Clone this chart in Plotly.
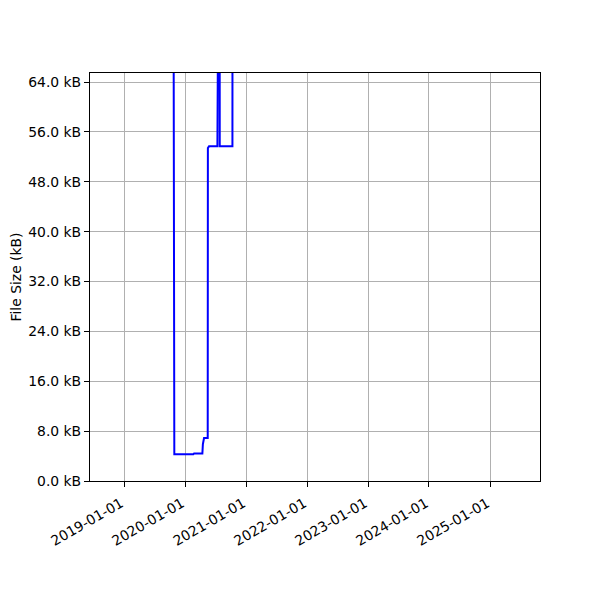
import plotly.graph_objects as go

dates = [
    "2019-10-22", "2019-10-29", "2020-02-20", "2020-02-24", "2020-04-14",
    "2020-04-17", "2020-04-24", "2020-05-16", "2020-05-17", "2020-05-24",
    "2020-07-13", "2020-07-14", "2020-07-26", "2020-07-27", "2020-10-11",
    "2020-10-12",
]
sizes_kb = [
    120.0, 4.3, 4.3, 4.4, 4.4,
    5.9, 6.9, 6.9, 53.4, 53.7,
    53.7, 120.0, 120.0, 53.7, 53.7,
    120.0,
]

y_ticks = [0, 8, 16, 24, 32, 40, 48, 56, 64]
y_labels = [f"{v:.1f} kB" for v in y_ticks]
x_ticks = ["2019-01-01", "2020-01-01", "2021-01-01", "2022-01-01",
           "2023-01-01", "2024-01-01", "2025-01-01"]

font = dict(family="DejaVu Sans", size=13.9, color="black")

fig = go.Figure()
fig.add_trace(go.Scatter(x=dates, y=sizes_kb, mode="lines",
                         line=dict(color="blue", width=2), showlegend=False))

axis_common = dict(showline=True, linecolor="black", linewidth=1.1, mirror=True,
                   showgrid=True, gridcolor="#b0b0b0", gridwidth=1.1,
                   ticks="outside", ticklen=5, tickwidth=1.1, tickcolor="black",
                   zeroline=False, tickfont=font, automargin=False)

fig.update_layout(
    width=600, height=600,
    margin=dict(l=82, r=68, t=65, b=127),
    plot_bgcolor="white", paper_bgcolor="white",
    font=font,
    xaxis=dict(type="date", range=["2018-06-11", "2025-10-27"],
               tickvals=x_ticks, ticktext=x_ticks, tickangle=-30,
               ticklabelshift=-3, ticklabelstandoff=3, **axis_common),
    yaxis=dict(range=[0, 65.45], tickvals=y_ticks, ticktext=y_labels,
               title=dict(text="File Size (kB)", font=font, standoff=3),
               **axis_common),
)

fig.write_html("out.html")
